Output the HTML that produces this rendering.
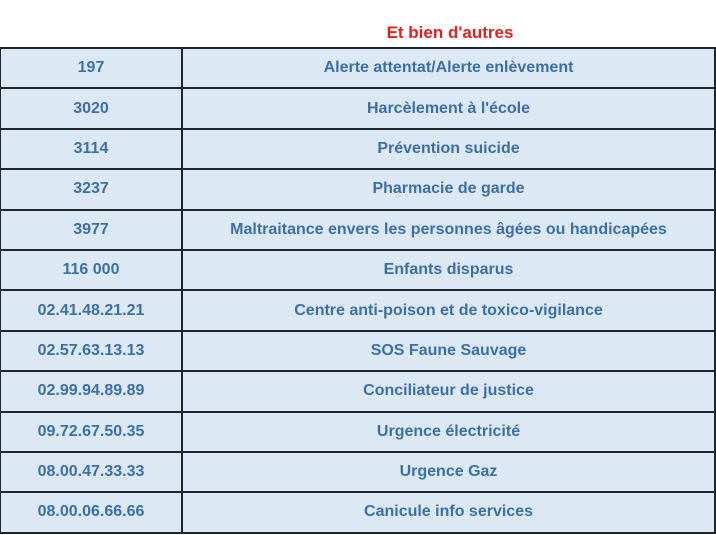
<!DOCTYPE html>
<html><head><meta charset="utf-8"><style>
body{margin:0;width:716px;height:535px;background:#fff;position:relative;overflow:hidden;font-family:"Liberation Sans",Arial,sans-serif;}
.t{position:absolute;left:300px;width:300px;top:23px;text-align:center;color:#e3201b;font-weight:bold;font-size:17px;}
table{position:absolute;left:0;top:47px;width:716px;border-collapse:collapse;background:#dce9f5;}
td{border:2px solid #1e252b;height:38.4px;padding:0;text-align:center;color:#3c6fa3;font-weight:bold;font-size:16px;}
td:first-child{width:180px;border-left:1px solid #1e252b;}
</style></head><body>
<div class="t">Et bien d'autres</div>
<table>
<tr><td>197</td><td>Alerte attentat/Alerte enlèvement</td></tr>
<tr><td>3020</td><td>Harcèlement à l'école</td></tr>
<tr><td>3114</td><td>Prévention suicide</td></tr>
<tr><td>3237</td><td>Pharmacie de garde</td></tr>
<tr><td>3977</td><td>Maltraitance envers les personnes âgées ou handicapées</td></tr>
<tr><td>116 000</td><td>Enfants disparus</td></tr>
<tr><td>02.41.48.21.21</td><td>Centre anti-poison et de toxico-vigilance</td></tr>
<tr><td>02.57.63.13.13</td><td>SOS Faune Sauvage</td></tr>
<tr><td>02.99.94.89.89</td><td>Conciliateur de justice</td></tr>
<tr><td>09.72.67.50.35</td><td>Urgence électricité</td></tr>
<tr><td>08.00.47.33.33</td><td>Urgence Gaz</td></tr>
<tr><td>08.00.06.66.66</td><td>Canicule info services</td></tr>
</table>
</body></html>
